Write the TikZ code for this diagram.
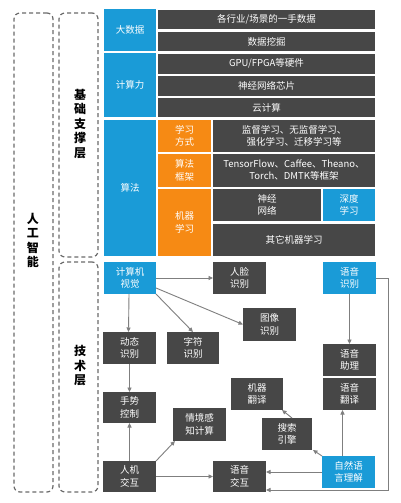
\documentclass[tikz,border=0pt]{standalone}
\usepackage{fontspec}
\newfontfamily\cjk{Noto Sans CJK SC}
\usetikzlibrary{arrows.meta}
\definecolor{aiblue}{HTML}{1A9BD7}
\definecolor{aidark}{HTML}{474747}
\definecolor{aiorange}{HTML}{F68A14}
\definecolor{aigray}{HTML}{7F7F7F}
\definecolor{dashgray}{HTML}{6B6B6B}
\tikzset{
 base/.style={inner sep=0pt, outer sep=0pt, align=center, text=white, font=\cjk\fontsize{9.5}{12.5}\selectfont},
 bluebox/.style={base, fill=aiblue},
 darkbox/.style={base, fill=aidark},
 orangebox/.style={base, fill=aiorange},
 conn/.style={draw=aigray, line width=0.9pt, -{Triangle[length=4.5pt,width=4pt]}},
 layerbox/.style={draw=dashgray, line width=1.2pt, dash pattern=on 4pt off 3pt, rounded corners=6pt, inner sep=0pt, outer sep=0pt},
 vlabel/.style={font=\cjk\bfseries\fontsize{12}{14.5}\selectfont, align=center, text=black, inner sep=0pt}
}
\newcommand\bx[7]{\node[#2, minimum width={(#5-#3)*1pt}, minimum height={(#6-#4)*1pt}] (#1) at ({(#3+#5)/2},{(#4+#6)/2}) {#7};}
\begin{document}
\begin{tikzpicture}[x=1pt,y=-1pt]
\fill[white] (0,0) rectangle (400,503);
\useasboundingbox (0,0) rectangle (400,503);
% layer boxes
\bx{ai}{layerbox}{14}{13}{53}{492}{}
\bx{jc}{layerbox}{59}{13}{98}{257}{}
\bx{js}{layerbox}{59}{262}{98}{492}{}
\node[vlabel] (ailab) at (33,240.5) {人\\工\\智\\能};
\node[vlabel] (jclab) at (80,124) {基\\础\\支\\撑\\层};
\node[vlabel] (jslab) at (80,366) {技\\术\\层};
% foundation layer
\bx{dsj}{bluebox}{104}{9}{156}{51}{大数据}
\bx{hy}{darkbox}{158}{10}{375}{29.5}{各行业/场景的一手数据}
\bx{wj}{darkbox}{158}{32}{375}{51}{数据挖掘}
\bx{jsl}{bluebox}{104}{53.5}{156}{117}{计算力}
\bx{gpu}{darkbox}{158}{54}{375}{73.5}{GPU/FPGA等硬件}
\bx{xp}{darkbox}{158}{76}{375}{95.5}{神经网络芯片}
\bx{yjs}{darkbox}{158}{98}{375}{117}{云计算}
\bx{sf}{bluebox}{104}{119.5}{156}{256}{算法}
\bx{xxfs}{orangebox}{158}{119.5}{211}{152}{学习\\方式}
\bx{sfkj}{orangebox}{158}{154}{211}{186.5}{算法\\框架}
\bx{jqxx}{orangebox}{158}{189}{211}{256}{机器\\学习}
\bx{jd}{darkbox}{213}{119.5}{375}{152}{监督学习、无监督学习、\\强化学习、迁移学习等}
\bx{tf}{darkbox}{213}{154}{375}{186.5}{TensorFlow、Caffee、Theano、\\Torch、DMTK等框架}
\bx{sjwl}{darkbox}{213}{189}{321}{221}{神经\\网络}
\bx{sdxx}{bluebox}{323}{189}{375}{221}{深度\\学习}
\bx{qt}{darkbox}{213}{223.5}{375}{256}{其它机器学习}
% technology layer
\bx{cv}{bluebox}{104}{262}{156}{294}{计算机\\视觉}
\bx{rl}{darkbox}{213}{262}{266}{294}{人脸\\识别}
\bx{yysb}{bluebox}{323}{262}{376}{294}{语音\\识别}
\bx{tx}{darkbox}{243}{308}{296}{341}{图像\\识别}
\bx{dt}{darkbox}{103}{332}{156}{364}{动态\\识别}
\bx{zf}{darkbox}{167}{332}{219}{364}{字符\\识别}
\bx{zl}{darkbox}{323}{344}{376}{375.5}{语音\\助理}
\bx{yyfy}{darkbox}{323}{378}{376}{410}{语音\\翻译}
\bx{jqfy}{darkbox}{231}{378}{283}{410}{机器\\翻译}
\bx{ssk}{darkbox}{103}{392}{156}{423}{手势\\控制}
\bx{qj}{darkbox}{173}{408}{226}{441}{情境感\\知计算}
\bx{ssyq}{darkbox}{262}{418}{312}{450}{搜索\\引擎}
\bx{nlu}{bluebox}{322}{456}{375}{488}{自然语\\言理解}
\bx{rj}{darkbox}{103}{461}{156}{492}{人机\\交互}
\bx{yyjh}{darkbox}{213}{461}{266}{492}{语音\\交互}
% connectors
\draw[conn] (cv.east) -- (rl.west);
\draw[conn] ([yshift=6pt]cv.south east) -- (tx.west);
\draw[conn] (cv.south east) -- (zf.north);
\draw[conn] ([xshift=-1pt]cv.south) -- ([xshift=-1pt]dt.north);
\draw[conn] (dt.south) -- (ssk.north);
\draw[conn] (rj.north) -- (ssk.south);
\draw[conn] (rj.north east) -- ([xshift=2pt]qj.south west);
\draw[conn] (rj.east) -- (yyjh.west);
\draw[conn] (nlu.west) -- (nlu.west -| yyjh.east);
\draw[conn] (nlu.north west) -- ([xshift=1pt]ssyq.south east);
\draw[conn] ([xshift=5pt]ssyq.north) -- ([xshift=-1pt]jqfy.south east);
\draw[conn] ([xshift=-6pt]nlu.north) -- ([xshift=-6pt]nlu.north |- yyfy.south);
\draw[conn] (yysb.south) -- (zl.north);
\coordinate (rt) at (388,278);
\coordinate (rb) at (388,490);
\draw[conn] (yysb.east |- rt) -- (rt) -- (rb) -- (rb -| yyjh.east);
\end{tikzpicture}
\end{document}
